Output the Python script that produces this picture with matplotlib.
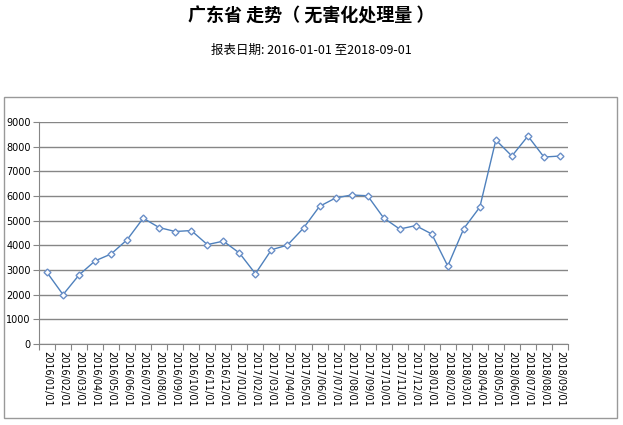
import matplotlib
matplotlib.use("Agg")
import matplotlib.pyplot as plt
from matplotlib.patches import Rectangle
import numpy as np

plt.rcParams['font.family'] = ['Noto Sans CJK SC', 'DejaVu Sans']

months = ["2016/01/01", "2016/02/01", "2016/03/01", "2016/04/01", "2016/05/01", "2016/06/01",
          "2016/07/01", "2016/08/01", "2016/09/01", "2016/10/01", "2016/11/01", "2016/12/01",
          "2017/01/01", "2017/02/01", "2017/03/01", "2017/04/01", "2017/05/01", "2017/06/01",
          "2017/07/01", "2017/08/01", "2017/09/01", "2017/10/01", "2017/11/01", "2017/12/01",
          "2018/01/01", "2018/02/01", "2018/03/01", "2018/04/01", "2018/05/01", "2018/06/01",
          "2018/07/01", "2018/08/01", "2018/09/01"]
values = [2900, 2000, 2800, 3370, 3650, 4230, 5100, 4720, 4560, 4600, 4030, 4170,
          3690, 2850, 3820, 4010, 4700, 5580, 5920, 6040, 6010, 5110, 4660, 4800,
          4460, 3160, 4680, 5550, 8270, 7620, 8430, 7580, 7620]
yticks = [0, 1000, 2000, 3000, 4000, 5000, 6000, 7000, 8000, 9000]

W, H = 623, 425
fig = plt.figure(figsize=(W / 100, H / 100), dpi=100)

# outer chart frame
fig.patches.append(Rectangle((4 / W, 1 - 418 / H), 613 / W, 321 / H, transform=fig.transFigure,
                             fill=False, edgecolor='#999999', linewidth=1))

fig.text(0.5, 1 - 16 / H, "广东省 走势（ 无害化处理量 ）", ha='center', va='center',
         fontsize=13, fontweight='bold')
fig.text(0.5, 1 - 50 / H, "报表日期: 2016-01-01 至2018-09-01", ha='center', va='center',
         fontsize=9)

ax = fig.add_axes([39 / W, 1 - 344 / H, (568 - 39) / W, (344 - 122) / H])
x = np.arange(len(months))
ax.plot(x, values, color='#4f81bd', linewidth=1, marker='D', markersize=3.5,
        markerfacecolor='white', markeredgecolor='#6a8fc8', markeredgewidth=1)

ax.set_xlim(-0.5, len(months) - 0.5)
ax.set_ylim(0, 9000)
ax.set_yticks(yticks)
ax.set_yticklabels([str(v) for v in yticks], fontsize=7, family='DejaVu Sans')
ax.yaxis.grid(True, color='#868686', linewidth=1)
ax.set_axisbelow(True)

ax.set_xticks(np.arange(-0.5, len(months)), minor=False)
ax.set_xticklabels([])
ax.set_xticks(x, minor=True)
ax.set_xticklabels(months, minor=True, rotation=270, fontsize=7, family='DejaVu Sans',
                   va='top', ha='center')
ax.tick_params(axis='x', which='major', length=4, color='#868686', direction='out')
ax.tick_params(axis='x', which='minor', length=0, pad=5)
ax.tick_params(axis='y', length=4, color='#868686', pad=2)

for side in ['top', 'right']:
    ax.spines[side].set_visible(False)
for side in ['left', 'bottom']:
    ax.spines[side].set_color('#868686')

fig.savefig("out.png", dpi=100)
